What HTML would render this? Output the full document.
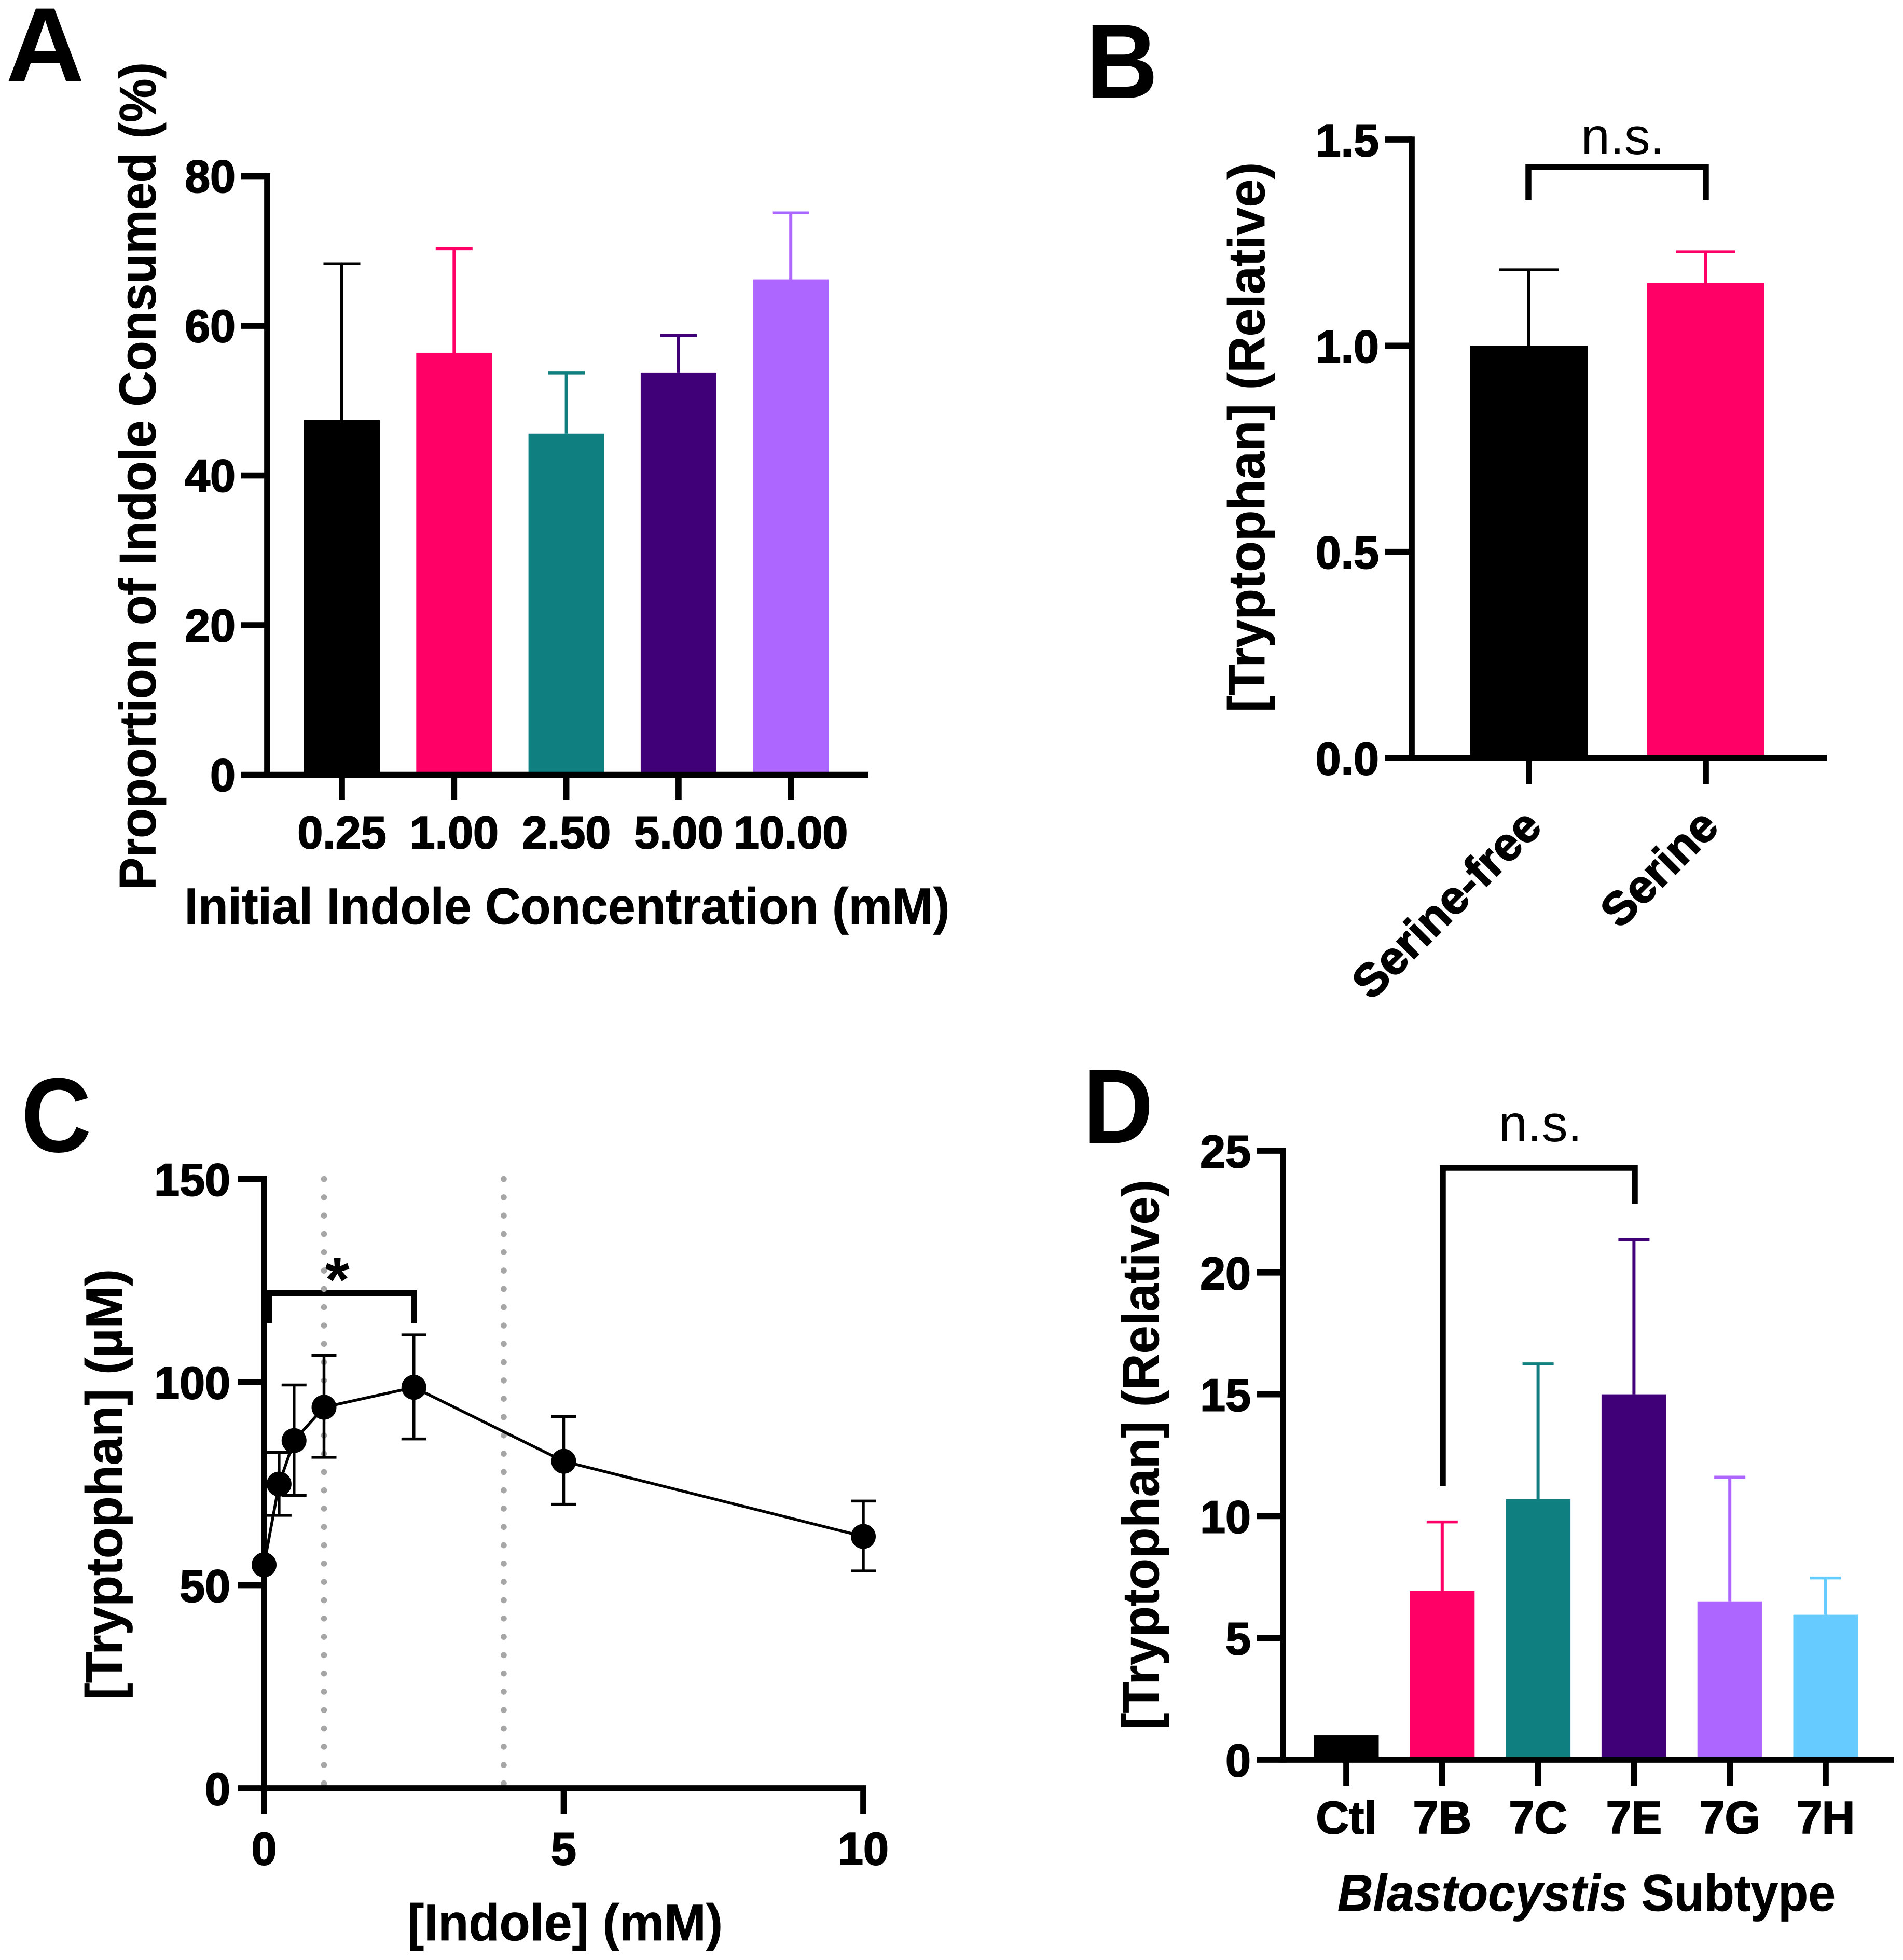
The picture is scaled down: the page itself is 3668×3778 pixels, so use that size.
<!DOCTYPE html>
<html>
<head>
<meta charset="utf-8">
<title>Indole and tryptophan panels</title>
<style>
html,body{margin:0;padding:0;background:#fff;}
svg{display:block;}
text{font-family:"Liberation Sans",sans-serif;fill:#000;}
.tick{font-size:88px;font-weight:700;stroke:#000;stroke-width:2px;}
.title{font-size:99px;font-weight:700;stroke:#000;stroke-width:0.8px;}
.letter{font-size:204px;font-weight:700;}
.ns{font-size:100px;font-weight:400;}
</style>
</head>
<body>
<svg id="fig" xmlns="http://www.w3.org/2000/svg" width="3668" height="3778" viewBox="0 0 3668 3778">
<rect x="0" y="0" width="3668" height="3778" fill="#fff"/>
<text class="letter" x="11" y="157" textLength="152" lengthAdjust="spacingAndGlyphs">A</text>
<text class="letter" x="2093" y="189" textLength="139" lengthAdjust="spacingAndGlyphs">B</text>
<text class="letter" x="41" y="2220" textLength="135" lengthAdjust="spacingAndGlyphs">C</text>
<text class="letter" x="2087" y="2203" textLength="136" lengthAdjust="spacingAndGlyphs">D</text>
<text class="title" x="355.5" y="1781" textLength="1475" lengthAdjust="spacingAndGlyphs">Initial Indole Concentration (mM)</text>
<text class="title" transform="translate(299.5,1716) rotate(-90)" textLength="1596" lengthAdjust="spacingAndGlyphs">Proportion of Indole Consumed (%)</text>
<text class="title" transform="translate(2437,1373) rotate(-90)" textLength="1060" lengthAdjust="spacingAndGlyphs">[Tryptophan] (Relative)</text>
<text class="title" transform="translate(235,3277) rotate(-90)" textLength="831" lengthAdjust="spacingAndGlyphs">[Tryptophan] (µM)</text>
<text class="title" x="785" y="3740" textLength="608" lengthAdjust="spacingAndGlyphs">[Indole] (mM)</text>
<text class="title" transform="translate(2233,3334) rotate(-90)" textLength="1060" lengthAdjust="spacingAndGlyphs">[Tryptophan] (Relative)</text>
<text class="title" x="2578" y="3683" textLength="960" lengthAdjust="spacingAndGlyphs"><tspan font-style="italic">Blastocystis</tspan> Subtype</text>
<text class="ns" x="3128" y="297" text-anchor="middle">n.s.</text>
<text class="ns" x="2969" y="2200" text-anchor="middle">n.s.</text>
<text x="650" y="2508" text-anchor="middle" font-size="122" font-weight="700">*</text>
<path d="M2946 385V322H3288V385" fill="none" stroke="#000" stroke-width="11.5"/>
<path d="M2781 2865V2251H3151V2320" fill="none" stroke="#000" stroke-width="11.5"/>
<path d="M519 2550V2492.5H798.5V2550" fill="none" stroke="#000" stroke-width="11"/>
</svg>
<script>
var aCategories = ['0.25', '1.00', '2.50', '5.00', '10.00'];
var aValues = [47.4, 56.4, 45.6, 53.7, 66.2];
var aErrorTops = [68.3, 70.3, 53.7, 58.7, 75.1];
var aTicks = [0, 20, 40, 60, 80];

var bCategories = ['Serine-free', 'Serine'];
var bValues = [1.0, 1.152];
var bErrorTops = [1.184, 1.228];
var bTicks = ['0.0', '0.5', '1.0', '1.5'];

var cDoses = [0, 0.25, 0.5, 1, 2.5, 5, 10];
var cMeans = [55, 74.9, 85.6, 93.8, 98.7, 80.5, 62];
var cUpper = [55, 82.7, 99.3, 106.6, 111.6, 91.5, 70.7];
var cLower = [55, 67.2, 72.1, 81.5, 86, 69.9, 53.5];
var cXTicks = [0, 5, 10];
var cYTicks = [0, 50, 100, 150];
var cGuides = [1, 4];

var dCategories = ['Ctl', '7B', '7C', '7E', '7G', '7H'];
var dValues = [1.0, 6.93, 10.7, 15, 6.5, 5.95];
var dErrorTops = [1.0, 9.76, 16.25, 21.35, 11.6, 7.46];
var dTicks = [0, 5, 10, 15, 20, 25];

var palette = ['#000000', '#ff0066', '#107f80', '#400078', '#ad66ff', '#66ccff'];
var NS = 'http://www.w3.org/2000/svg';
var fig = document.getElementById('fig');

function line(name, x1, y1, x2, y2, color, width, dash) {
  var el = document.createElementNS(NS, 'line');
  
  
  el.setAttribute('x1', x1);
  el.setAttribute('y1', y1);
  el.setAttribute('x2', x2);
  el.setAttribute('y2', y2);
  el.setAttribute('stroke', color);
  el.setAttribute('stroke-width', width);
  if (dash) {
    el.setAttribute('stroke-dasharray', dash);
    el.setAttribute('stroke-linecap', 'round');
  }
  fig.appendChild(el);
  return el;
}
function rect(name, x, y, w, h, color) {
  var el = document.createElementNS(NS, 'rect');
  
  
  el.setAttribute('x', x);
  el.setAttribute('y', y);
  el.setAttribute('width', w);
  el.setAttribute('height', h);
  el.setAttribute('fill', color);
  fig.appendChild(el);
  return el;
}
function label(name, x, y, str, anchor, rot, size) {
  var el = document.createElementNS(NS, 'text');
  
  
  el.setAttribute('class', 'tick');
  el.setAttribute('text-anchor', anchor);
  if (rot) {
    el.setAttribute('transform', 'translate(' + x + ',' + y + ') rotate(' + rot + ')');
  } else {
    el.setAttribute('x', x);
    el.setAttribute('y', y);
  }
  if (size) el.style.fontSize = size + 'px';
  el.textContent = str;
  fig.appendChild(el);
  return el;
}
function linear(d0, d1, r0, r1) {
  return function (v) { return r0 + (v - d0) * (r1 - r0) / (d1 - d0); };
}

function barPanel(p, cfg, cats, vals, tops, ticks) {
  var y = linear(cfg.min, cfg.max, cfg.y0, cfg.yTop);
  var band = function (i) { return cfg.x0 + cfg.step * i; };
  vals.forEach(function (v, i) {
    var c = palette[i];
    if (tops[i] > v) {
      line(p + '-error-stem-' + cats[i], band(i), y(tops[i]), band(i), y(v), c, 6);
      line(p + '-error-cap-' + cats[i], band(i) - cfg.cap / 2, y(tops[i]), band(i) + cfg.cap / 2, y(tops[i]), c, 5.5);
    }
    rect(p + '-bar-' + cats[i], band(i) - cfg.barW / 2, y(v), cfg.barW, cfg.y0 - y(v), c);
  });
  line(p + '-y-axis', cfg.axisX, cfg.yTop - 5.8, cfg.axisX, cfg.y0 + 5.8, '#000', 11.7);
  line(p + '-x-axis', cfg.tickL, cfg.y0, cfg.xEnd, cfg.y0, '#000', 11.7);
  ticks.forEach(function (t) {
    var ty = y(+t);
    if (+t !== cfg.min) line(p + '-y-tick-' + t, cfg.tickL, ty, cfg.axisX, ty, '#000', 11.7);
    label(p + '-y-tick-label-' + t, cfg.yLabelX, ty + cfg.yLabelDy, String(t), 'end');
  });
  cats.forEach(function (n, i) {
    line(p + '-x-tick-' + n, band(i), cfg.y0, band(i), cfg.tickB, '#000', 11.7);
    if (cfg.rot) {
      label(p + '-x-tick-label-' + n, band(i) + cfg.labDx, cfg.labY, n, 'end', cfg.rot, cfg.labSize);
    } else {
      label(p + '-x-tick-label-' + n, band(i), cfg.labY, n, 'middle');
    }
  });
}

barPanel('a', {min:0, max:80, y0:1493.6, yTop:339.5, x0:659, step:216.3, barW:146, cap:71, axisX:515, tickL:465, xEnd:1674, tickB:1543, yLabelX:454, yLabelDy:31, labY:1635}, aCategories, aValues, aErrorTops, aTicks);
barPanel('b', {min:0, max:1.5, y0:1461, yTop:269, x0:2947, step:341, barW:226, cap:114, axisX:2721, tickL:2670, xEnd:3521, tickB:1512, yLabelX:2658, yLabelDy:32, labY:1598, labDx:29, rot:-45, labSize:90}, bCategories, bValues, bErrorTops, bTicks);
barPanel('d', {min:0, max:25, y0:3392, yTop:2218, x0:2595, step:184.8, barW:125, cap:60, axisX:2473, tickL:2423, xEnd:3651, tickB:3442, yLabelX:2411, yLabelDy:32, labY:3534}, dCategories, dValues, dErrorTops, dTicks);

(function () {
  var x = linear(0, 10, 509, 1664);
  var y = linear(0, 150, 3447, 2272.5);
  cGuides.forEach(function (g) {
    line('c-guide-' + g, x(g), 2272.6, x(g), 3442, '#a6a6a6', 11.6, '0 35.3');
  });
  line('c-y-axis', x(0), 2267, x(0), 3496, '#000', 11.7);
  line('c-x-axis', 459, y(0), x(10) + 5.8, y(0), '#000', 11.7);
  cYTicks.forEach(function (t) {
    if (t !== 0) line('c-y-tick-' + t, 459, y(t), x(0), y(t), '#000', 11.7);
    label('c-y-tick-label-' + t, 444, y(t) + 32, String(t), 'end');
  });
  cXTicks.forEach(function (t) {
    if (t !== 0) line('c-x-tick-' + t, x(t), y(0), x(t), 3496, '#000', 11.7);
    label('c-x-tick-label-' + t, x(t), 3594, String(t), 'middle');
  });
  var pts = cDoses.map(function (d, i) { return x(d) + ',' + y(cMeans[i]); }).join(' ');
  var pl = document.createElementNS(NS, 'polyline');
  
  
  pl.setAttribute('points', pts);
  pl.setAttribute('fill', 'none');
  pl.setAttribute('stroke', '#000');
  pl.setAttribute('stroke-width', '5.5');
  fig.appendChild(pl);
  cDoses.forEach(function (d, i) {
    if (cUpper[i] > cLower[i]) {
      line('c-error-stem-' + d, x(d), y(cUpper[i]), x(d), y(cLower[i]), '#000', 5.5);
      line('c-error-cap-upper-' + d, x(d) - 24, y(cUpper[i]), x(d) + 24, y(cUpper[i]), '#000', 5.5);
      line('c-error-cap-lower-' + d, x(d) - 24, y(cLower[i]), x(d) + 24, y(cLower[i]), '#000', 5.5);
    }
    var dot = document.createElementNS(NS, 'circle');
    
    
    dot.setAttribute('cx', x(d));
    dot.setAttribute('cy', y(cMeans[i]));
    dot.setAttribute('r', 24);
    dot.setAttribute('fill', '#000');
    fig.appendChild(dot);
  });
})();
</script>
</body>
</html>
